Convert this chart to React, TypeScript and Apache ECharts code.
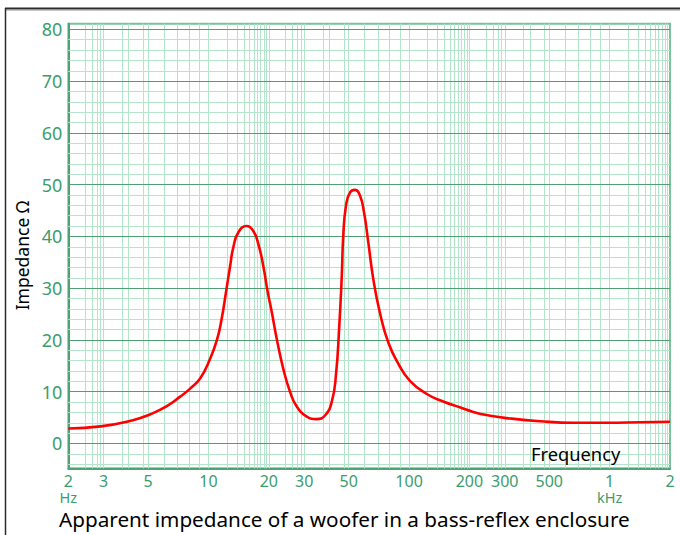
import React, { useEffect, useRef } from "react";
import * as echarts from "echarts";

// Measured impedance curve (frequency in Hz, impedance in ohms)
const freqHz = [
  2, 2.9, 4.2, 5.1, 6.2, 7.2, 8.1, 9.1, 10.2, 11.0, 11.6, 12.3, 12.8, 13.3, 14.1,
  15.5, 16.7, 17.7, 18.8, 19.6, 20.7, 21.9, 23.6, 25.5, 27.5, 30.9, 34.6, 38.1,
  41.2, 43.2, 44.9, 46.2, 47.0, 48.5, 50.8, 53.8, 56.9, 59.6, 62.6, 66.3, 71.6,
  78.8, 88.4, 101, 122, 148, 179, 209, 250, 307, 450, 660, 970, 1420, 2000,
];
const impedanceOhm = [
  2.9, 3.3, 4.5, 5.6, 7.2, 9.0, 10.6, 12.6, 16.4, 19.9, 23.8, 29.9, 34.1, 37.9,
  40.8, 42.0, 41.1, 38.6, 34.1, 29.9, 25.3, 20.2, 14.4, 10.0, 7.2, 5.2, 4.7, 5.4,
  8.1, 13.2, 22.8, 32.5, 40.2, 46.0, 48.5, 49.0, 47.9, 44.7, 38.9, 31.8, 25.2,
  19.5, 15.4, 12.1, 9.6, 8.1, 7.0, 6.1, 5.4, 4.9, 4.3, 4.0, 4.0, 4.1, 4.2,
];

// Axis ticks
const xTickValues = [2, 3, 5, 10, 20, 30, 50, 100, 200, 300, 500, 1000, 2000];
const xTickLabels = ["2", "3", "5", "10", "20", "30", "50", "100", "200", "300", "500", "1", "2"];
const xTickUnits = ["Hz", "", "", "", "", "", "", "", "", "", "", "kHz", ""];
const yTickValues = [0, 10, 20, 30, 40, 50, 60, 70, 80];

// Axis ranges
const xRange = [2, 2000];
const yRange = [-4.8, 81.1];

// Log-paper grid line multipliers within each decade
const gridMultipliers = [1, 2, 3, 4, 5, 6, 7, 8, 9];
const fineGridMultipliers = [
  1.235, 1.39, 1.5, 1.6, 1.685, 1.755, 1.82, 1.89, 1.945, 2.42, 2.63, 2.78, 2.89, 3.72, 4.74,
];
const gridDecades = [1, 10, 100, 1000];
const yMinorStep = 2;
const yMajorStep = 10;

const FONT = "'Noto Sans', sans-serif";
const GREEN_TEXT = "#3b9d6b";
const MINOR_LINE = "#b3e5cb";
const MAJOR_LINE = "#4f9f72";

export default function App() {
  const ref = useRef<HTMLDivElement>(null);

  useEffect(() => {
    if (!ref.current) return;
    const chart = echarts.init(ref.current, undefined, { renderer: "svg" });

    const vLines: any[] = [];
    gridDecades.forEach((d) => {
      [...gridMultipliers, ...fineGridMultipliers].forEach((m) => {
        const f = +(m * d).toPrecision(6);
        if (f > xRange[0] && f < xRange[1]) {
          vLines.push({ xAxis: f, lineStyle: { color: MINOR_LINE, width: 1, type: "solid" } });
        }
      });
    });
    const minorH: any[] = [];
    const majorH: any[] = [];
    for (let v = Math.ceil(yRange[0] / yMinorStep) * yMinorStep; v <= yRange[1]; v += yMinorStep) {
      if (v % yMajorStep === 0) {
        majorH.push({ yAxis: v, lineStyle: { color: MAJOR_LINE, width: 1.2, type: "solid" } });
      } else {
        minorH.push({ yAxis: v, lineStyle: { color: MINOR_LINE, width: 1, type: "solid" } });
      }
    }

    const option: any = {
      animation: false,
      backgroundColor: "#ffffff",
      grid: {
        left: 68.3,
        right: 10,
        top: 23.7,
        bottom: 66.7,
        show: true,
        borderColor: "#78c49a",
        borderWidth: 2,
        backgroundColor: "transparent",
      },
      title: {
        text: "Apparent impedance of a woofer in a bass-reflex enclosure",
        left: 59,
        top: 508,
        padding: 0,
        textStyle: { fontFamily: FONT, fontSize: 20.7, fontWeight: "normal", color: "#000" },
      },
      xAxis: {
        type: "log",
        logBase: 10,
        min: xRange[0],
        max: xRange[1],
        axisLine: { show: true, onZero: false, lineStyle: { color: "#4ea273", width: 2 } },
        axisTick: { show: false },
        splitLine: { show: false },
        minorTick: { show: false },
        minorSplitLine: { show: false },
        axisLabel: {
          customValues: xTickValues,
          showMinLabel: true,
          showMaxLabel: true,
          hideOverlap: false,
          margin: 4,
          color: GREEN_TEXT,
          fontFamily: FONT,
          fontSize: 16,
          lineHeight: 17,
          formatter: (val: number) => {
            let i = 0;
            let best = Infinity;
            xTickValues.forEach((t, k) => {
              const d = Math.abs(Math.log10(t) - Math.log10(val));
              if (d < best) {
                best = d;
                i = k;
              }
            });
            return xTickUnits[i] ? `${xTickLabels[i]}\n{u|${xTickUnits[i]}}` : xTickLabels[i];
          },
          rich: {
            u: { fontFamily: FONT, fontSize: 14.5, color: GREEN_TEXT, lineHeight: 16 },
          },
        },
      },
      yAxis: {
        type: "value",
        min: yRange[0],
        max: yRange[1],
        axisLine: { show: true, onZero: false, lineStyle: { color: "#4ea273", width: 2 } },
        axisTick: { show: false },
        splitLine: { show: false },
        axisLabel: {
          customValues: yTickValues,
          margin: 6,
          color: GREEN_TEXT,
          fontFamily: FONT,
          fontSize: 18,
          formatter: (v: number) => String(Math.round(v)),
        },
      },
      graphic: [
        {
          type: "text",
          x: 22,
          y: 255.5,
          rotation: Math.PI / 2,
          style: {
            text: "Impedance Ω",
            fontFamily: FONT,
            fontSize: 17.5,
            fill: "#000",
            align: "center",
            verticalAlign: "middle",
          },
          z: 100,
        },
        {
          type: "text",
          left: 531,
          top: 444,
          style: { text: "Frequency", fontFamily: FONT, fontSize: 18.3, fill: "#000" },
          z: 100,
        },
        {
          type: "line",
          shape: { x1: 5, y1: 8.5, x2: 680, y2: 8.5 },
          style: { stroke: "#2b2b2b", lineWidth: 2 },
          z: 100,
        },
        {
          type: "line",
          shape: { x1: 5, y1: 10.5, x2: 680, y2: 10.5 },
          style: { stroke: "#c8c8c8", lineWidth: 1 },
          z: 100,
        },
        {
          type: "line",
          shape: { x1: 5.5, y1: 8, x2: 5.5, y2: 535 },
          style: { stroke: "#2b2b2b", lineWidth: 1.5 },
          z: 100,
        },
      ],
      series: [
        {
          name: "grid-minor",
          type: "line",
          data: [],
          z: 1,
          silent: true,
          markLine: {
            silent: true,
            symbol: ["none", "none"],
            label: { show: false },
            emphasis: { disabled: true },
            animation: false,
            data: [...vLines, ...minorH],
          },
        },
        {
          name: "grid-major",
          type: "line",
          data: [],
          z: 2,
          silent: true,
          markLine: {
            silent: true,
            symbol: ["none", "none"],
            label: { show: false },
            emphasis: { disabled: true },
            animation: false,
            data: majorH,
          },
        },
        {
          name: "Impedance",
          type: "line",
          z: 5,
          data: freqHz.map((f, i) => [f, impedanceOhm[i]]),
          showSymbol: false,
          smooth: 0.5,
          lineStyle: { color: "#ff0000", width: 2.6 },
          itemStyle: { color: "#ff0000" },
        },
      ],
    };

    chart.setOption(option);
    return () => chart.dispose();
  }, []);

  return (
    <div
      ref={ref}
      style={{ position: "fixed", left: 0, top: 0, width: 680, height: 535, background: "#fff" }}
    />
  );
}
